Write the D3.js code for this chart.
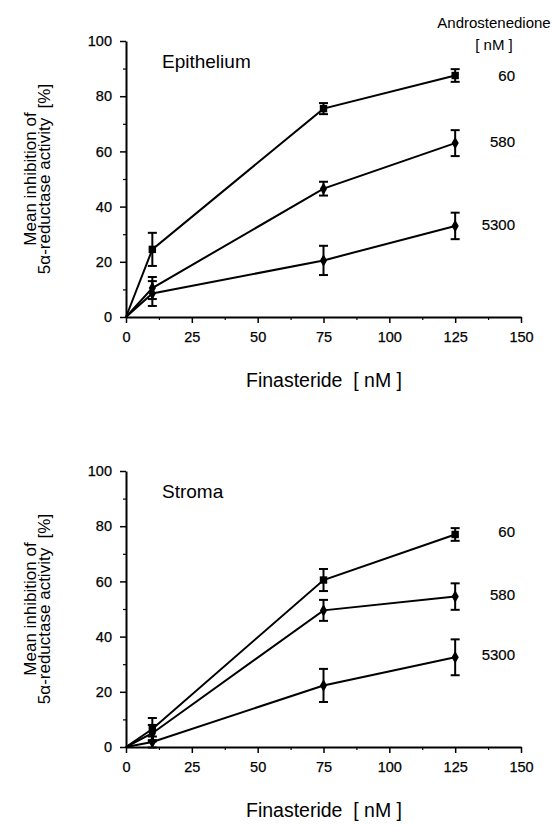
<!DOCTYPE html>
<html><head><meta charset="utf-8">
<script src="https://cdn.jsdelivr.net/npm/d3@7"></script>
<style>body{margin:0;background:#fff}svg{display:block}text{font-family:"Liberation Sans",Arial,sans-serif;fill:#000;white-space:pre}</style>
</head><body>
<script>
const doses = [0, 10, 75, 125];
const seriesNames = ["60", "580", "5300"];
const epiMean = {"60": [0, 24.5, 75.5, 87.5], "580": [0, 10.5, 46.5, 63], "5300": [0, 8.5, 20.5, 33]};
const epiErr  = {"60": [0, 6, 2, 2.3], "580": [0, 4, 2.5, 4.7], "5300": [0, 4.5, 5.3, 4.8]};
const strMean = {"60": [0, 6.5, 60.5, 77], "580": [0, 5, 49.5, 54.5], "5300": [0, 1.8, 22.3, 32.5]};
const strErr  = {"60": [0, 4, 4, 2.3], "580": [0, 3, 3.8, 4.8], "5300": [0, 2, 6, 6.5]};
const xTicks = [0, 25, 50, 75, 100, 125, 150];
const yTicks = [0, 20, 40, 60, 80, 100];
const markers = {"60": "square", "580": "diamond", "5300": "diamond"};

const W = 556, H = 826;
const svg = d3.select("body").append("svg").attr("width", W).attr("height", H);

function panel(top, title, mean, err, labelYs, showHeader) {
  const x = d3.scaleLinear().domain([0, 150]).range([126, 521]);
  const y = d3.scaleLinear().domain([0, 100]).range([top + 276, top]);
  const g = svg.append("g");
  const xa = g.append("g").attr("transform", `translate(0,${y(0)})`)
    .call(d3.axisBottom(x).tickValues(xTicks).tickSize(6).tickSizeOuter(0).tickPadding(9));
  xa.selectAll("line").attr("stroke-width", 1.5);
  xa.select(".domain").attr("stroke-width", 2);
  xa.selectAll("text").attr("font-size", 14.5).attr("stroke", "#000").attr("stroke-width", 0.25);
  g.append("g").attr("transform", `translate(0,${y(0)})`)
    .call(d3.axisBottom(x).tickValues(d3.range(12.5, 150, 25)).tickSize(3).tickFormat(""))
    .call(s => s.select(".domain").remove()).selectAll("line").attr("stroke-width", 1.2);
  const ya = g.append("g").attr("transform", `translate(${x(0)},0)`)
    .call(d3.axisLeft(y).tickValues(yTicks).tickSize(6).tickSizeOuter(0).tickPadding(8));
  ya.selectAll("line").attr("stroke-width", 1.5);
  ya.select(".domain").attr("stroke-width", 2);
  ya.selectAll("text").attr("font-size", 14.5).attr("stroke", "#000").attr("stroke-width", 0.25);
  g.append("g").attr("transform", `translate(${x(0)},0)`)
    .call(d3.axisLeft(y).tickValues(d3.range(10, 100, 20)).tickSize(3).tickFormat(""))
    .call(s => s.select(".domain").remove()).selectAll("line").attr("stroke-width", 1.2);

  g.append("text").attr("x", x(0) + 36).attr("y", top + 27).attr("font-size", 19).text(title);

  const cy = top + 138;
  g.append("text").attr("transform", `translate(36,${cy}) rotate(-90)`).attr("text-anchor", "middle")
    .attr("font-size", 17).text("Mean inhibition of");
  g.append("text").attr("transform", `translate(50,${cy}) rotate(-90)`).attr("text-anchor", "middle")
    .attr("font-size", 17).text("5α-reductase activity  [%]");
  g.append("text").attr("x", 324).attr("y", y(0) + 70).attr("text-anchor", "middle")
    .attr("font-size", 19.5).text("Finasteride  [ nM ]");

  const line = d3.line().x((d, i) => x(doses[i])).y(d => y(d));
  seriesNames.forEach((s, si) => {
    g.append("path").datum(mean[s]).attr("d", line).attr("fill", "none")
      .attr("stroke", "#000").attr("stroke-width", 2);
    mean[s].forEach((v, i) => {
      if (i === 0) return;
      const e = err[s][i], cx = x(doses[i]);
      g.append("line").attr("x1", cx).attr("x2", cx).attr("y1", y(v - e)).attr("y2", y(v + e))
        .attr("stroke", "#000").attr("stroke-width", 2);
      [v - e, v + e].forEach(ev => g.append("line").attr("x1", cx - 4.5).attr("x2", cx + 4.5)
        .attr("y1", y(ev)).attr("y2", y(ev)).attr("stroke", "#000").attr("stroke-width", 2));
      const sym = markers[s] === "square" ? d3.symbolSquare : d3.symbolDiamond;
      g.append("path").attr("d", d3.symbol().type(sym).size(markers[s] === "square" ? 55 : 45)())
        .attr("transform", `translate(${cx},${y(v)})`).attr("fill", "#000");
    });
    g.append("text").attr("x", 515).attr("y", labelYs[si]).attr("text-anchor", "end")
      .attr("font-size", 15).attr("stroke", "#000").attr("stroke-width", 0.2).text(s);
  });
  if (showHeader) {
    g.append("text").attr("x", 494).attr("y", 28).attr("text-anchor", "middle").attr("font-size", 15).text("Androstenedione");
    g.append("text").attr("x", 494).attr("y", 50).attr("text-anchor", "middle").attr("font-size", 15).text("[ nM ]");
  }
}

panel(41, "Epithelium", epiMean, epiErr, [81, 147, 230], true);
panel(471, "Stroma", strMean, strErr, [537, 600, 660], false);
</script>
</body></html>
